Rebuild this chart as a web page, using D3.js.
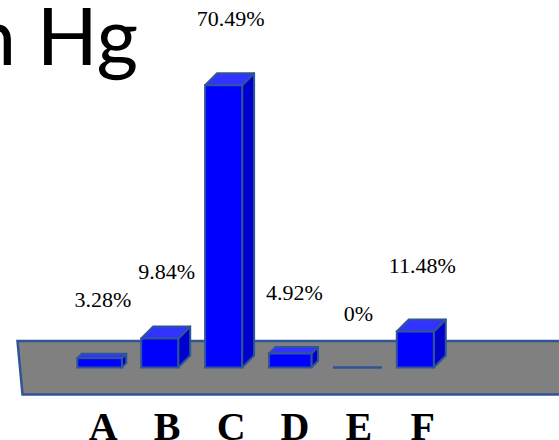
<!DOCTYPE html>
<html>
<head>
<meta charset="utf-8">
<script src="https://cdn.jsdelivr.net/npm/d3@7"></script>
<style>
  html, body { margin: 0; padding: 0; background: #fff; overflow: hidden; }
  svg { display: block; }
</style>
</head>
<body>
<svg id="chart" width="559" height="440"></svg>
<script>
// Categories and their share (%)
const categories = ["A", "B", "C", "D", "E", "F"];
const shares = [3.28, 9.84, 70.49, 4.92, 0, 11.48];
const valueLabels = ["3.28%", "9.84%", "70.49%", "4.92%", "0%", "11.48%"];
const titleText = "n Hg";

const svg = d3.select("#chart");
const W = 559, H = 440;

const baseY = 367.5;       // front bottom edge of the columns
const maxDepth = 12;       // 3D offset of the column top/side faces

const x = d3.scaleBand()
  .domain(categories)
  .range([77.3, 445.8])
  .paddingInner(0.233)
  .paddingOuter(0);

const y = d3.scaleLinear()
  .domain([0, 75])
  .range([baseY, baseY - 75 * 4.174]);

const stroke = "#2F5597";

// Floor slab
svg.append("path")
  .attr("d", d3.line()([[17.5, 341], [W + 10, 341], [W + 10, 394.5], [22.5, 394.5]]) + "Z")
  .attr("fill", "#808080")
  .attr("stroke", stroke)
  .attr("stroke-width", 2.5);

// Title fragment
svg.append("text")
  .attr("x", 138)
  .attr("y", 65)
  .attr("text-anchor", "end")
  .attr("font-family", "Lato, 'Noto Sans', sans-serif")
  .attr("font-size", 80)
  .attr("fill", "#000")
  .text(titleText);

const data = categories.map((c, i) => ({ cat: c, v: shares[i], label: valueLabels[i] }));

const bars = svg.append("g").selectAll("g")
  .data(data)
  .join("g");

bars.each(function(d) {
  const g = d3.select(this);
  const x0 = x(d.cat);
  const bw = x.bandwidth();
  const top = y(d.v);
  const h = baseY - top;
  if (h <= 0.5) {
    g.append("line")
      .attr("x1", x0).attr("x2", x0 + bw)
      .attr("y1", baseY).attr("y2", baseY)
      .attr("stroke", stroke)
      .attr("stroke-width", 2.7);
    return;
  }
  const dd = Math.min(maxDepth, h * 0.32);
  const fr = x0 + bw - dd;
  const line = d3.line();
  // side face
  g.append("path")
    .attr("d", line([[fr, top + dd], [x0 + bw, top], [x0 + bw, baseY - dd], [fr, baseY]]) + "Z")
    .attr("fill", "#0000CC")
    .attr("stroke", stroke).attr("stroke-width", 2).attr("stroke-linejoin", "round");
  // top face
  g.append("path")
    .attr("d", line([[x0, top + dd], [x0 + dd, top], [x0 + bw, top], [fr, top + dd]]) + "Z")
    .attr("fill", "#3333FF")
    .attr("stroke", stroke).attr("stroke-width", 2).attr("stroke-linejoin", "round");
  // front face
  g.append("rect")
    .attr("x", x0).attr("y", top + dd)
    .attr("width", bw - dd).attr("height", baseY - top - dd)
    .attr("fill", "#0000FF")
    .attr("stroke", stroke).attr("stroke-width", 2);
});

// Value labels
svg.append("g").selectAll("text")
  .data(data)
  .join("text")
  .attr("x", d => x(d.cat) + x.bandwidth() / 2 + 1)
  .attr("y", d => y(d.v) - 47)
  .attr("text-anchor", "middle")
  .attr("font-family", "'Liberation Serif', 'Times New Roman', serif")
  .attr("font-size", 22)
  .attr("fill", "#000")
  .text(d => d.label);

// Category axis labels
svg.append("g").selectAll("text")
  .data(categories)
  .join("text")
  .attr("x", d => x(d) + x.bandwidth() / 2 + 1.5)
  .attr("y", 440)
  .attr("text-anchor", "middle")
  .attr("font-family", "'Liberation Serif', 'Times New Roman', serif")
  .attr("font-weight", "bold")
  .attr("font-size", 40)
  .attr("fill", "#000")
  .text(d => d);
</script>
</body>
</html>
